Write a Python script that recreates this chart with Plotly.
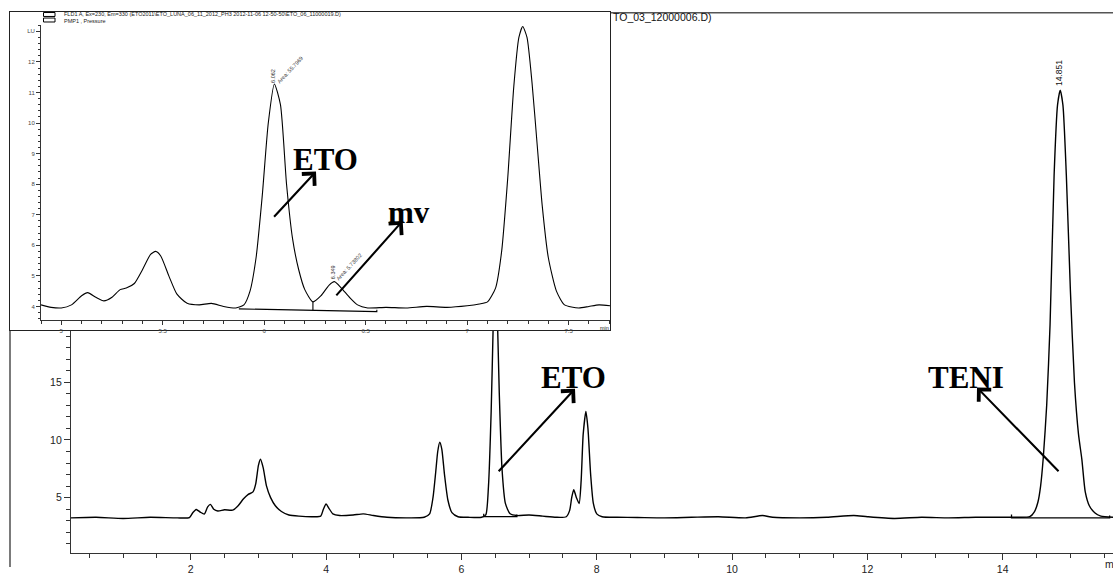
import plotly.graph_objects as go

W, H = 1113, 575

# ---------------- data: main chromatogram (ETO_03_12000006.D) ----------------
main_time = [0.23, 0.6, 1.0, 1.4, 1.8, 1.98, 2.03, 2.08, 2.14, 2.20, 2.25, 2.29, 2.34, 2.40,
             2.50, 2.62, 2.70, 2.78, 2.85, 2.92, 2.96, 3.00, 3.03, 3.07, 3.12, 3.18, 3.25,
             3.34, 3.45, 3.60, 3.80, 3.92, 3.96, 4.00, 4.04, 4.10, 4.20, 4.40, 4.55, 4.70,
             4.90, 5.20, 5.45, 5.53, 5.58, 5.62, 5.65, 5.68, 5.71, 5.75, 5.80, 5.86, 5.95,
             6.10, 6.30, 6.36, 6.40, 6.44, 6.47, 6.50, 6.53, 6.56, 6.60, 6.65, 6.72, 6.82,
             7.00, 7.20, 7.40, 7.55, 7.60, 7.63, 7.66, 7.70, 7.74, 7.77, 7.80, 7.84, 7.87,
             7.91, 7.95, 8.00, 8.08, 8.30, 8.60, 9.00, 9.40, 9.80, 10.20, 10.45, 10.60,
             11.00, 11.40, 11.80, 12.00, 12.40, 12.80, 13.20, 13.60, 14.00, 14.20, 14.40,
             14.47, 14.52, 14.56, 14.60, 14.65, 14.70, 14.76, 14.81, 14.85, 14.89, 14.94,
             15.00, 15.06, 15.12, 15.17, 15.22, 15.28, 15.36, 15.45, 15.63]
main_signal = [3.25, 3.30, 3.20, 3.30, 3.25, 3.28, 3.70, 3.98, 3.75, 3.58, 4.20, 4.42, 4.00, 3.85,
               3.95, 3.92, 4.30, 4.90, 5.28, 5.50, 6.20, 7.80, 8.33, 7.60, 6.00, 5.00, 4.30,
               3.80, 3.50, 3.40, 3.35, 3.40, 4.00, 4.45, 4.10, 3.60, 3.45, 3.50, 3.60, 3.45,
               3.30, 3.25, 3.30, 3.60, 5.00, 7.20, 9.00, 9.80, 9.20, 7.00, 4.80, 3.70, 3.35,
               3.30, 3.30, 3.50, 6.00, 12.50, 20.00, 26.00, 21.00, 14.00, 7.50, 4.50, 3.60, 3.45,
               3.50, 3.40, 3.30, 3.35, 3.90, 5.00, 5.68, 5.00, 4.50, 6.50, 10.50, 12.47, 11.00,
               7.00, 4.50, 3.60, 3.35, 3.30, 3.28, 3.25, 3.30, 3.35, 3.25, 3.45, 3.30,
               3.25, 3.30, 3.45, 3.35, 3.20, 3.30, 3.25, 3.30, 3.30, 3.30, 3.35,
               3.80, 4.60, 6.00, 8.50, 13.00, 20.00, 33.00, 39.00, 40.30, 39.00, 33.00,
               23.00, 15.00, 10.50, 8.30, 5.50, 4.30, 3.70, 3.40, 3.30]

# integration baselines in the main run
eto_base_time = [6.33, 6.33, 6.82, 6.82]
eto_base_signal = [3.60, 3.35, 3.35, 3.55]
teni_base_time = [14.13, 14.13, 15.58, 15.58]
teni_base_signal = [3.55, 3.25, 3.25, 3.45]

main_xticks = [2, 4, 6, 8, 10, 12, 14]
main_yticks = [5, 10, 15, 20, 25, 30, 35, 40, 45]

# ---------------- data: inset chromatogram (ETO_06_11000019.D) ----------------
inset_time = [4.90, 4.95, 5.00, 5.05, 5.10, 5.13, 5.17, 5.21, 5.25, 5.29, 5.32, 5.36, 5.40,
              5.44, 5.465, 5.49, 5.53, 5.57, 5.62, 5.68, 5.74, 5.80, 5.86, 5.90, 5.93, 5.96,
              5.99, 6.02, 6.05, 6.08, 6.11, 6.14, 6.17, 6.20, 6.24, 6.28, 6.32, 6.346, 6.38,
              6.42, 6.46, 6.51, 6.60, 6.70, 6.80, 6.90, 7.00, 7.06, 7.10, 7.14, 7.17, 7.20,
              7.23, 7.255, 7.274, 7.295, 7.32, 7.345, 7.37, 7.40, 7.44, 7.48, 7.55, 7.60,
              7.65, 7.71]
inset_signal = [4.05, 3.97, 3.95, 4.05, 4.35, 4.45, 4.30, 4.18, 4.30, 4.55, 4.60, 4.75, 5.20,
                5.70, 5.80, 5.65, 5.00, 4.40, 4.10, 4.05, 4.10, 4.00, 3.95, 4.05, 4.50, 5.60,
                7.60, 10.00, 11.28, 10.60, 8.00, 6.20, 5.20, 4.55, 4.15, 4.35, 4.70, 4.81, 4.60,
                4.30, 4.05, 3.95, 3.97, 3.95, 4.00, 3.97, 4.02, 4.08, 4.15, 4.60, 5.80, 8.20,
                11.20, 12.80, 13.16, 12.80, 11.30, 9.30, 7.30, 5.60, 4.50, 4.05, 3.95, 4.00,
                4.05, 4.02]

inset_base_time = [5.875, 6.555, 6.555]
inset_base_signal = [3.92, 3.83, 3.89]
inset_drop_time = [6.24, 6.24]
inset_drop_signal = [4.15, 3.87]

inset_xticks = [5, 5.5, 6, 6.5, 7, 7.5]
inset_yticks = [4, 5, 6, 7, 8, 9, 10, 11, 12, 13]
inset_ytext = ["4", "5", "6", "7", "8", "9", "10", "11", "12", "LU"]


def px(x):
    return x / W


def py(y):
    return 1 - y / H


fig = go.Figure()

# main subplot traces
fig.add_trace(go.Scatter(x=main_time, y=main_signal, mode="lines",
                         line=dict(color="black", width=1.4, shape="spline", smoothing=0.6),
                         xaxis="x", yaxis="y", hoverinfo="skip"))
for bx, by in [(eto_base_time, eto_base_signal), (teni_base_time, teni_base_signal)]:
    fig.add_trace(go.Scatter(x=bx, y=by, mode="lines", line=dict(color="black", width=1.3),
                             xaxis="x", yaxis="y", hoverinfo="skip"))

# inset frame subplot (white box) - needs a trace to exist
fig.add_trace(go.Scatter(x=[0.5], y=[0.5], mode="lines", xaxis="x2", yaxis="y2",
                         line=dict(color="white"), hoverinfo="skip"))

# inset traces
fig.add_trace(go.Scatter(x=inset_time, y=inset_signal, mode="lines",
                         line=dict(color="black", width=1.1, shape="spline", smoothing=0.6),
                         xaxis="x3", yaxis="y3", hoverinfo="skip"))
fig.add_trace(go.Scatter(x=inset_base_time, y=inset_base_signal, mode="lines",
                         line=dict(color="black", width=1.1), xaxis="x3", yaxis="y3",
                         hoverinfo="skip"))
fig.add_trace(go.Scatter(x=inset_drop_time, y=inset_drop_signal, mode="lines",
                         line=dict(color="black", width=1.1), xaxis="x3", yaxis="y3",
                         hoverinfo="skip"))

tickfont_main = dict(family="Liberation Sans, Arial", size=10.5, color="#222")
tickfont_inset = dict(family="Liberation Sans, Arial", size=6, color="#444")

fig.update_layout(
    width=W, height=H, margin=dict(l=0, r=0, t=0, b=0),
    paper_bgcolor="white", plot_bgcolor="white", showlegend=False,
    xaxis=dict(domain=[px(71), 1], range=[0.23, 15.63], anchor="y",
               tickvals=main_xticks, ticks="outside", ticklen=6, tickcolor="#333",
               showline=True, linecolor="#333", linewidth=1.3, showgrid=False, zeroline=False,
               tickfont=tickfont_main,
               minor=dict(dtick=0.5, tick0=0, ticks="outside", ticklen=4, tickcolor="#333",
                          showgrid=False)),
    yaxis=dict(domain=[py(561), py(13)], range=[0.19, 47.0], anchor="x",
               tickvals=main_yticks, ticks="outside", ticklen=6, tickcolor="#333",
               showline=True, linecolor="#333", linewidth=1.3, showgrid=False, zeroline=False,
               tickfont=tickfont_main,
               minor=dict(dtick=1, tick0=0, ticks="outside", ticklen=3.5, tickcolor="#333",
                          showgrid=False)),
    xaxis2=dict(domain=[px(10), px(610)], range=[0, 1], anchor="y2", showline=True,
                mirror=True, linecolor="#222", linewidth=1.2, showgrid=False, zeroline=False,
                showticklabels=False, ticks=""),
    yaxis2=dict(domain=[py(335), py(12)], range=[0, 1], anchor="x2", showline=True,
                mirror=True, linecolor="#222", linewidth=1.2, showgrid=False, zeroline=False,
                showticklabels=False, ticks=""),
    xaxis3=dict(domain=[px(41), px(610)], range=[4.90, 7.704], anchor="y3",
                tickvals=inset_xticks, ticks="outside", ticklen=4, tickcolor="#333",
                showline=True, linecolor="#333", linewidth=1, showgrid=False, zeroline=False,
                tickfont=tickfont_inset,
                minor=dict(dtick=0.1, tick0=0, ticks="outside", ticklen=2.5, tickcolor="#333",
                           showgrid=False)),
    yaxis3=dict(domain=[py(325), py(25)], range=[3.54, 13.22], anchor="x3",
                tickvals=inset_yticks, ticktext=inset_ytext, ticks="outside", ticklen=4,
                tickcolor="#333", showline=True, linecolor="#333", linewidth=1,
                showgrid=False, zeroline=False, tickfont=tickfont_inset,
                minor=dict(dtick=0.2, tick0=0, ticks="outside", ticklen=2.5, tickcolor="#333",
                           showgrid=False)),
)

# main outer frame (partly covered by the inset)
fig.add_shape(type="line", xref="paper", yref="paper", x0=px(10), x1=px(1113), y0=py(13),
              y1=py(13), line=dict(color="#555", width=1.5), layer="below")
fig.add_shape(type="line", xref="paper", yref="paper", x0=px(10), x1=px(10), y0=py(13),
              y1=py(575), line=dict(color="#222", width=1.2), layer="below")

# inset legend boxes
for y0, y1 in [(12.7, 16.7), (18.3, 22.3)]:
    fig.add_shape(type="rect", xref="paper", yref="paper", x0=px(43.5), x1=px(55),
                  y0=py(y1), y1=py(y0), line=dict(color="black", width=1),
                  fillcolor="white", layer="above")

ann = []


def text(x, y, t, size, family="Liberation Sans, Arial", color="#222", xanchor="left",
         yanchor="middle", angle=0, bold=False):
    ann.append(dict(x=px(x), y=py(y), xref="paper", yref="paper", text=("<b>%s</b>" % t) if bold else t,
                    showarrow=False, xanchor=xanchor, yanchor=yanchor, textangle=angle,
                    font=dict(family=family, size=size, color=color)))


# headers
text(62, 14.7, "FLD1 A, Ex=230, Em=330 (ETO2011\\ETO_LUNA_06_11_2012_PH3 2012-11-06 12-50-50\\ETO_06_11000019.D)", 5.5)
text(62, 21, "PMP1 , Pressure", 5.5)
text(611, 17.5, "TO_03_12000006.D)", 10.5, color="#111")

# axis unit labels
text(1103, 572, "m", 10.5)
text(604, 333, "min", 5.5, xanchor="center")

# peak labels
text(1059, 74, "14.851", 8.5, xanchor="center", angle=-90, color="#111")
text(273, 77, "6.062", 5.5, xanchor="center", angle=-90, color="#333")
text(290, 71, "Area: 55.7969", 5.5, xanchor="center", angle=-47, color="#333")
text(333, 276, "6.349", 5.5, xanchor="center", angle=-90, color="#333")
text(349, 271, "Area: 5.73802", 5.5, xanchor="center", angle=-47, color="#333")

# big labels
serif = "Liberation Serif, Times New Roman"
text(573, 383, "ETO", 31, family=serif, color="black", xanchor="center", bold=True)
text(966, 383, "TENI", 31, family=serif, color="black", xanchor="center", bold=True)
text(325.5, 162, "ETO", 31, family=serif, color="black", xanchor="center", bold=True)
text(409, 216, "mv", 31, family=serif, color="black", xanchor="center", bold=True)


def arrow(tipx, tipy, tailx, taily):
    ann.append(dict(x=px(tipx), y=py(tipy), xref="paper", yref="paper", text="",
                    showarrow=True, ax=tailx - tipx, ay=taily - tipy, arrowhead=4,
                    arrowsize=1.6, arrowwidth=2.1, arrowcolor="black", standoff=0))


arrow(575, 394.3, 497.3, 478.3)
arrow(977, 393, 1060, 478.3)
arrow(316, 174, 272.7, 220.7)
arrow(402.7, 224, 335, 300)

fig.update_layout(annotations=ann)

fig.write_html("out.html")
